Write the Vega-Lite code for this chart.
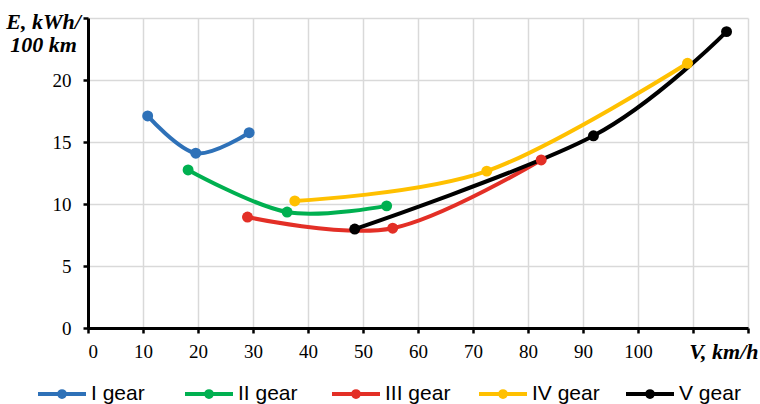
{
  "$schema": "https://vega.github.io/schema/vega-lite/v6.json",
  "width": 660,
  "height": 310,
  "autosize": {"type": "none"},
  "padding": {"left": 88, "top": 18, "right": 12, "bottom": 76},
  "background": "white",
  "config": {
    "view": {"stroke": null},
    "axis": {
      "grid": true,
      "gridColor": "#D9D9D9",
      "gridWidth": 1.5,
      "domainColor": "#000000",
      "domainWidth": 3,
      "tickColor": "#000000",
      "tickWidth": 2.5,
      "tickSize": 5,
      "labelFont": "Liberation Serif",
      "labelFontSize": 19,
      "labelColor": "#000000",
      "titleFont": "Liberation Serif",
      "titleFontSize": 22,
      "titleFontWeight": "bold",
      "titleFontStyle": "italic",
      "titleColor": "#000000"
    }
  },
  "data": {
    "values": [
      {"gear": "I gear", "V": 10.85, "E": 17.1},
      {"gear": "I gear", "V": 19.6, "E": 14.1},
      {"gear": "I gear", "V": 29.3, "E": 15.75},
      {"gear": "II gear", "V": 18.2, "E": 12.75},
      {"gear": "II gear", "V": 36.2, "E": 9.35},
      {"gear": "II gear", "V": 54.3, "E": 9.85},
      {"gear": "III gear", "V": 29.0, "E": 8.95},
      {"gear": "III gear", "V": 55.4, "E": 8.05},
      {"gear": "III gear", "V": 82.4, "E": 13.55},
      {"gear": "IV gear", "V": 37.6, "E": 10.25},
      {"gear": "IV gear", "V": 72.5, "E": 12.65},
      {"gear": "IV gear", "V": 109.0, "E": 21.35},
      {"gear": "V gear", "V": 48.5, "E": 7.98},
      {"gear": "V gear", "V": 91.9, "E": 15.5},
      {"gear": "V gear", "V": 116.1, "E": 23.9}
    ]
  },
  "encoding": {
    "x": {
      "field": "V",
      "type": "quantitative",
      "scale": {"domain": [0, 120], "nice": false},
      "axis": {
        "values": [0, 10, 20, 30, 40, 50, 60, 70, 80, 90, 100, 110, 120],
        "labelExpr": "datum.value <= 100 ? datum.label : ''",
        "labelPadding": 9,
        "title": "V, km/h",
        "titleAlign": "right",
        "titleAnchor": null,
        "titleX": 670,
        "titleY": 30,
        "titleBaseline": "alphabetic"
      }
    },
    "y": {
      "field": "E",
      "type": "quantitative",
      "scale": {"domain": [0, 25], "nice": false},
      "axis": {
        "values": [0, 5, 10, 15, 20, 25],
        "labelExpr": "datum.value < 25 ? datum.label : ''",
        "labelPadding": 12,
        "title": ["E, kWh/", "100 km"],
        "titleAngle": 0,
        "titleAlign": "center",
        "titleAnchor": null,
        "titleX": -45,
        "titleY": 10,
        "titleBaseline": "alphabetic",
        "titleLineHeight": 23
      }
    },
    "color": {
      "field": "gear",
      "type": "nominal",
      "scale": {
        "domain": ["I gear", "II gear", "III gear", "IV gear", "V gear"],
        "range": ["#2E71B8", "#00B050", "#E32F26", "#FFC000", "#000000"]
      },
      "legend": {
        "orient": "none",
        "direction": "horizontal",
        "columns": 5,
        "gridAlign": "all",
        "legendX": -52,
        "legendY": 350,
        "title": null,
        "padding": 0,
        "labelFont": "Liberation Sans",
        "labelFontSize": 21,
        "labelColor": "#000000",
        "labelOffset": 3,
        "columnPadding": 18,
        "symbolType": "M-1,0H1M-0.12,0A0.12,0.12 0 1,1 0.12,0A0.12,0.12 0 1,1 -0.12,0Z",
        "symbolSize": 2304,
        "symbolStrokeWidth": 4,
        "encode": {
          "symbols": {
            "update": {
              "shape": {"value": "M-1,0H1M-0.12,0A0.12,0.12 0 1,1 0.12,0A0.12,0.12 0 1,1 -0.12,0Z"},
              "size": {"value": 2304},
              "strokeWidth": {"value": 4},
              "fill": {"scale": "color", "field": "value"},
              "stroke": {"scale": "color", "field": "value"},
              "opacity": {"value": 1}
            }
          }
        }
      }
    }
  },
  "layer": [
    {
      "mark": {"type": "line", "interpolate": "cardinal", "strokeWidth": 4}
    },
    {
      "mark": {"type": "point", "filled": true, "size": 120, "opacity": 1}
    }
  ]
}
